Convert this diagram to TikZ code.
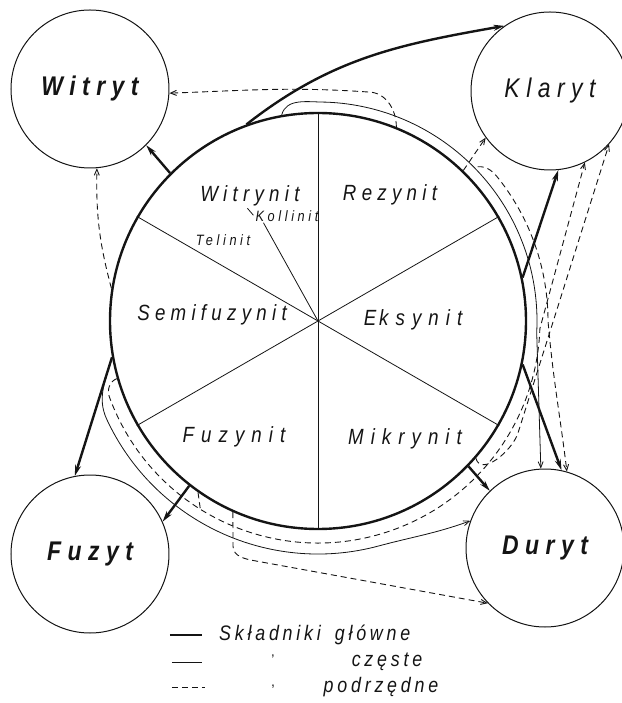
\documentclass[tikz,border=0pt]{standalone}
\usepackage{fontspec}
\setmainfont{Liberation Sans}
\newfontfamily\macfont[LetterSpace=24, FakeStretch=0.85]{Liberation Sans}
\newfontfamily\widefont[LetterSpace=32, FakeStretch=0.85]{Liberation Sans}
\newfontfamily\lithfont[LetterSpace=24, FakeStretch=0.85]{Liberation Sans}
\newfontfamily\legfont[LetterSpace=18, FakeStretch=0.85]{Liberation Sans}
\usetikzlibrary{arrows.meta}
\definecolor{ink}{HTML}{141414}

\begin{document}
\begin{tikzpicture}[x=1pt, y=1pt, color=ink,
    litho/.style={draw=ink, circle, line width=1pt, minimum size=158pt, inner sep=0pt,
                  font=\lithfont\fontsize{27}{30}\selectfont\itshape\bfseries},
    macer/.style={font=\macfont\fontsize{22}{26}\selectfont\itshape},
    macerw/.style={font=\widefont\fontsize{22}{26}\selectfont\itshape},
    sub/.style={font=\macfont\fontsize{15}{17}\selectfont\itshape, inner sep=1pt},
    legend/.style={font=\legfont\fontsize{21}{24}\selectfont\itshape, inner sep=1pt},
    glowne/.style={line width=2.4pt, -{Stealth[length=11pt, width=6pt]}},
    czeste/.style={line width=0.8pt, -{Straight Barb[length=6pt, width=5pt]}},
    podrz/.style={line width=0.9pt, dash pattern=on 6pt off 4pt, -{Straight Barb[length=6pt, width=5pt]}}]
  \useasboundingbox (-318,-382) rectangle (303,321);

  \node[circle, draw=ink, line width=2.4pt, minimum size=416pt, inner sep=0pt] (main) at (0,0) {};
  \foreach \a/\b in {30/210, 90/270, 150/330}
    \draw[line width=0.8pt] (main.\a) -- (main.\b);

  \node[macer] (witrynit) at (-68,125) {Witrynit};
  \node[sub] (koll) at (-31,105) {Kollinit};
  \node[sub] (telinit) at (-95,81) {Telinit};
  \node[macer] (rezynit) at (72,126) {Rezynit};
  \node[macer] (semif) at (-106,6) {Semifuzynit};
  \node[macerw] (eksynit) at (95,1) {E\kern3pt ksynit};
  \node[macerw] (fuzynit) at (-84,-116) {Fuzynit};
  \node[macerw] (mikrynit) at (87,-118) {Mikrynit};
  \draw[line width=0.8pt] (main.center) -- ([xshift=9pt]koll.south west);
  \draw[line width=0.8pt] ([xshift=-1pt, yshift=-6pt]koll.north west) -- ++(-6,7);

  \node[litho] (witryt) at (-228,232) {Witryt};
  \node[litho, font=\lithfont\fontsize{27}{30}\selectfont\itshape] (klaryt) at (232,230) {Klaryt};
  \node[litho] (fuzyt) at (-228,-233) {Fuzyt};
  \node[litho] (duryt) at (227,-227) {Duryt};

  \draw[glowne] (main.135) -- (witryt.-45);
  \draw[glowne] (main.110) to[out=38, in=190] (klaryt.125);
  \draw[glowne] (main.190) -- (fuzyt.101);
  \draw[glowne] (main.232) -- (fuzyt.24);
  \draw[glowne] (main.12) -- (klaryt.-84);
  \draw[glowne] (main.-12) -- (duryt.78);
  \draw[glowne] (main.-44) -- (duryt.134);

  \draw[czeste] (main.100) to[out=75, in=180] (88:219) arc[start angle=88, end angle=-3, radius=219] -- (duryt.93);
  \draw[czeste] (main.190) to[out=255, in=115] (205:233) arc[start angle=205, end angle=285, radius=233] to[out=15, in=200] (duryt.160);

  \coordinate (rhook) at (44:222);
  \draw[podrz] (main.68) to[out=90, in=0] (50,229) to[out=176, in=2] (witryt.-3);
  \draw[podrz] (main.171) to[bend left=8] (witryt.-85);
  \draw[podrz] (main.46) -- (klaryt.216);
  \draw[podrz] (rhook) to[out=5, in=128] (38:230) arc[start angle=38, end angle=0, radius=230] to[out=-85, in=97] (duryt.74);
  \draw[podrz] (main.196) to[out=200, in=110] (200:222) arc[start angle=200, end angle=358, radius=222] -- (klaryt.-64);
  \draw[line width=0.9pt, dash pattern=on 6pt off 4pt] (main.235) -- (238:222);
  \draw[podrz] (main.-41) to[out=-75, in=252] (200,-112) -- (klaryt.-42);
  \draw[podrz] (main.246) -- (-85,-225) to[out=-90, in=170] (-62,-240) -- (duryt.224);

  \draw[line width=2.4pt] (-148,-314) -- (-116,-314);
  \node[legend, anchor=west] (leg1) at (-100,-314) {Składniki\hspace{14pt}główne};
  \draw[line width=0.8pt] (-146,-341) -- (-116,-341);
  \node[font=\fontsize{14}{14}\selectfont, inner sep=0pt] (ditto1) at (-45,-339) {'};
  \node[legend] (leg2) at (69,-341) {częste};
  \draw[line width=0.9pt, dash pattern=on 6pt off 4pt] (-146,-366) -- (-113,-366);
  \node[font=\fontsize{14}{14}\selectfont, inner sep=0pt] (ditto2) at (-45,-366) {,};
  \node[legend] (leg3) at (63,-366) {podrzędne};
\end{tikzpicture}
\end{document}
